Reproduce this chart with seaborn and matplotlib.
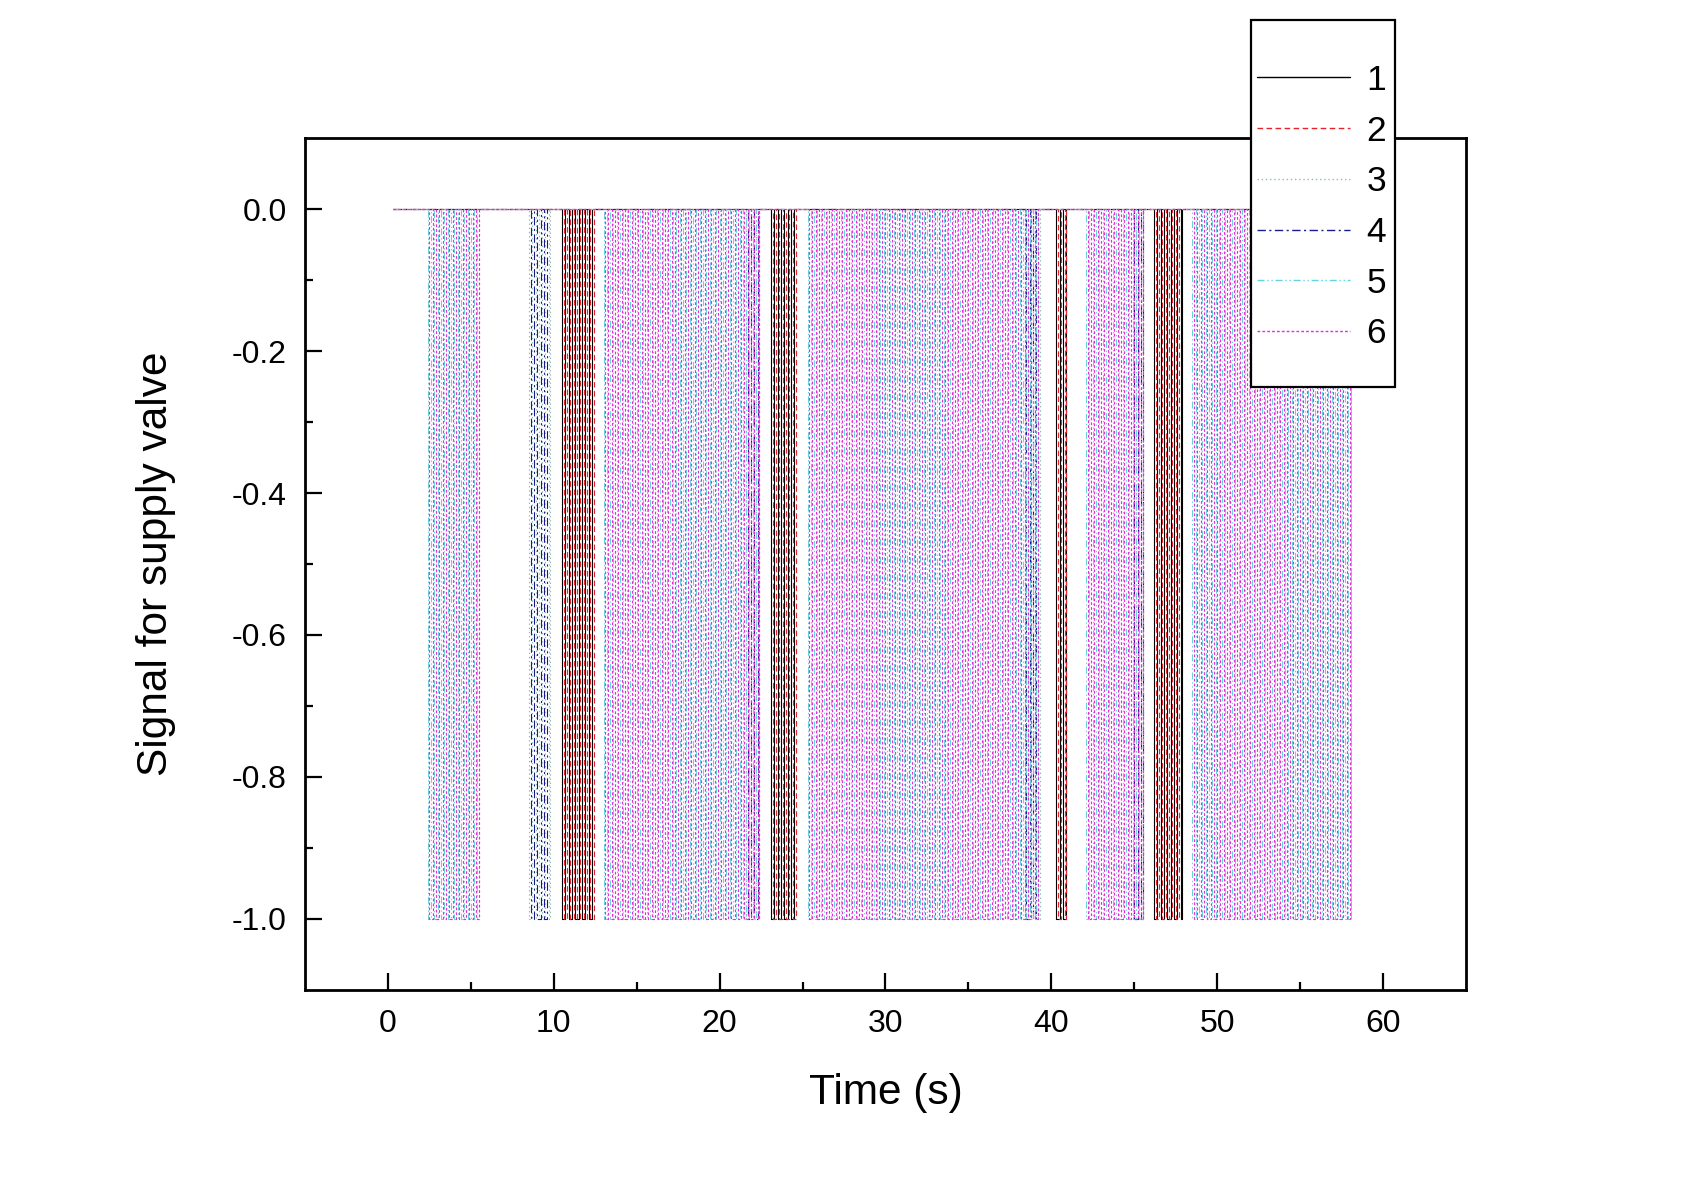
import numpy as np
import pandas as pd
import matplotlib
matplotlib.use("Agg")
import matplotlib.pyplot as plt
from matplotlib.patches import Rectangle
from matplotlib.lines import Line2D
import seaborn as sns

# ---- data ----
series_names = ["1", "2", "3", "4", "5", "6"]
t_first = 0.3
t_last = 58.1
switch_interval = 0.2          # time between successive switches inside a band
series_offsets = [0.0, 0.1, 0.0, 0.1, 0.0, 0.1]
bands_12 = [(10.5, 12.4), (23.1, 24.7), (40.3, 40.9), (46.2, 47.9)]
bands_34 = [(8.5, 9.75), (21.6, 22.4), (38.4, 39.3), (44.9, 45.5)]
bands_56 = [(2.4, 5.5), (13.0, 22.4), (25.3, 39.3), (42.1, 45.5), (48.5, 58.1)]
series_bands = [bands_12, bands_12, bands_34, bands_34, bands_56, bands_56]
signal_high = 0.0
signal_low = -1.0

x_ticks = [0, 10, 20, 30, 40, 50, 60]
y_ticks = [-1.0, -0.8, -0.6, -0.4, -0.2, 0.0]

colors = ["#000000", "#e8202a", "#8cbcb4", "#1a1a8c", "#60d4e0", "#e030d8"]
dash_styles = ["-", (0, (4, 2.5)), (0, (1, 2)), (0, (6, 2.5, 1.5, 2.5)),
               (0, (5, 2, 1, 2, 1, 2)), (0, (2, 1.5))]
line_widths = [0.8, 0.8, 0.8, 0.8, 0.7, 0.85]


def pulse_frame(bands, offset):
    xs, ys = [t_first], [signal_high]
    for a, b in bands:
        ts = np.arange(a + offset, b, switch_interval)
        for i, t in enumerate(ts):
            xs.append(t)
            ys.append(signal_low if i % 2 == 0 else signal_high)
        if len(ts) % 2 == 1:
            xs.append(b)
            ys.append(signal_high)
    xs.append(t_last)
    ys.append(signal_high)
    return pd.DataFrame({"t": xs, "v": ys})


sns.set_theme(style="ticks")
plt.rcParams["font.family"] = ["Liberation Sans", "DejaVu Sans"]
plt.rcParams["axes.unicode_minus"] = False
plt.rcParams["lines.scale_dashes"] = False
plt.rcParams["text.color"] = "black"
plt.rcParams["axes.labelcolor"] = "black"

fig = plt.figure(figsize=(17.02, 11.88), dpi=100)
ax = fig.add_axes([0.1792, 0.1667, 0.6821, 0.7171])

for name, bands, off, c, ls, lw in zip(series_names, series_bands, series_offsets,
                                       colors, dash_styles, line_widths):
    df = pulse_frame(bands, off)
    sns.lineplot(data=df, x="t", y="v", ax=ax, color=c, linestyle=ls,
                 linewidth=lw, drawstyle="steps-post", estimator=None,
                 sort=False, legend=False)

ax.set_xlim(-5, 65)
ax.set_ylim(-1.1, 0.1)
ax.set_xticks(x_ticks)
ax.set_xticklabels([str(v) for v in x_ticks])
ax.set_xticks(np.arange(5, 60, 10), minor=True)
ax.set_yticks(y_ticks)
ax.set_yticklabels([f"{v:.1f}" for v in y_ticks])
ax.set_yticks(np.arange(-0.9, 0.0, 0.2), minor=True)

for s in ax.spines.values():
    s.set_linewidth(2.0)
    s.set_color("black")
ax.tick_params(which="both", direction="in", top=False, right=False,
               width=1.6, colors="black", labelsize=23)
ax.tick_params(which="major", length=12)
ax.tick_params(which="minor", length=6)
ax.tick_params(axis="y", pad=13)
ax.tick_params(axis="x", pad=14)

ax.set_xlabel("Time (s)", fontsize=30.5, labelpad=24, color="black")
ax.set_ylabel("Signal for supply valve", fontsize=30.5, labelpad=40, color="black")

# legend box (white fill covering the plot corner)
x0, y0, w, h = 1251 / 1702, 1 - 387.5 / 1188, 144 / 1702, 368 / 1188
box = Rectangle((x0, y0), w, h, transform=fig.transFigure, facecolor="white",
                edgecolor="black", linewidth=1.6, zorder=5)
fig.patches.append(box)
handles = [Line2D([], [], color=c, linestyle=ls, linewidth=1.0)
           for c, ls in zip(colors, dash_styles)]
leg = fig.legend(handles, series_names, loc="center",
                 bbox_to_anchor=(x0 + w / 2 - 0.001, y0 + h / 2 - 0.003),
                 bbox_transform=fig.transFigure, frameon=False, fontsize=25.5,
                 handlelength=2.65, handletextpad=0.45, labelspacing=0.5,
                 borderpad=0.2, labelcolor="black")
leg.set_zorder(6)

fig.savefig("out.png", dpi=100, facecolor="white")
